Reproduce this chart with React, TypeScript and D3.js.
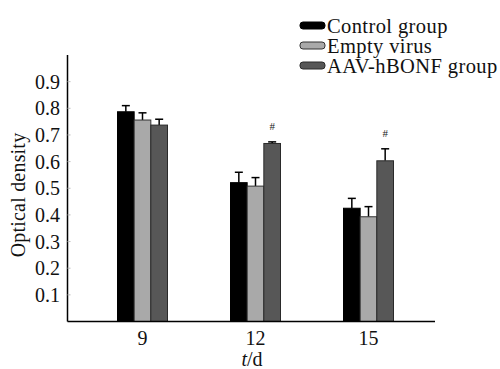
import React from "react";
import * as d3 from "d3";

const days = ["9", "12", "15"];
const groups = ["Control group", "Empty virus", "AAV-hBONF group"];
const controlValues = [0.787, 0.521, 0.425];
const controlErrors = [0.023, 0.039, 0.037];
const emptyValues = [0.756, 0.508, 0.393];
const emptyErrors = [0.027, 0.032, 0.038];
const aavValues = [0.737, 0.668, 0.603];
const aavErrors = [0.022, 0.006, 0.045];
const aavMarks = ["", "#", "#"];
const yTicks = [0.1, 0.2, 0.3, 0.4, 0.5, 0.6, 0.7, 0.8, 0.9];

const fills = ["#000000", "#a9a9a9", "#575757"];
const strokes = ["#000000", "#333333", "#2a2a2a"];

export default function App() {
  const W = 500, H = 369;
  const x0 = 67.5, yBase = 321.5, yTop = 55, xEnd = 435;
  const y = d3.scaleLinear().domain([0, 1]).range([yBase, yTop]);
  const xc = d3.scalePoint<string>().domain(days).range([142.5, 368.5]);
  const xs = d3.scaleBand<string>().domain(groups).range([-25, 25]).padding(0);
  const series = [
    { v: controlValues, e: controlErrors },
    { v: emptyValues, e: emptyErrors },
    { v: aavValues, e: aavErrors },
  ];
  const font = "'Liberation Serif', 'Times New Roman', serif";
  const bw = xs.bandwidth();
  return (
    <svg width={W} height={H} style={{ position: "absolute", left: 0, top: 0, background: "#fff" }} fontFamily={font}>
      <rect x={0} y={0} width={W} height={H} fill="#fff" />
      {days.map((d, i) => (
        <g key={d}>
          {series.map((s, j) => {
            const bx = (xc(d) as number) + (xs(groups[j]) as number);
            const top = y(s.v[i]);
            const et = y(s.v[i] + s.e[i]);
            const cx = bx + bw / 2;
            return (
              <g key={j}>
                <line x1={cx} x2={cx} y1={top} y2={et} stroke="#000" strokeWidth={1.5} />
                <line x1={cx - 4} x2={cx + 4} y1={et} y2={et} stroke="#000" strokeWidth={1.5} />
                <rect x={bx} y={top} width={bw} height={yBase - top} fill={fills[j]} stroke={strokes[j]} strokeWidth={1} />
              </g>
            );
          })}
          {aavMarks[i] && (
            <text
              x={(xc(d) as number) + (xs(groups[2]) as number) + bw / 2}
              y={y(aavValues[i] + aavErrors[i]) - 12}
              fontSize={11}
              textAnchor="middle"
              fill="#222"
            >
              {aavMarks[i]}
            </text>
          )}
        </g>
      ))}
      <line x1={x0} x2={x0} y1={yTop} y2={yBase} stroke="#000" strokeWidth={1.5} />
      <line x1={x0} x2={xEnd} y1={yBase} y2={yBase} stroke="#000" strokeWidth={1.5} />
      {yTicks.map((t) => (
        <g key={t}>
          <line x1={x0} x2={x0 + 3} y1={y(t)} y2={y(t)} stroke="#bbb" strokeWidth={1} />
          <text x={60} y={y(t)} dy="0.35em" fontSize={20} textAnchor="end" fill="#111">
            {d3.format(".1f")(t)}
          </text>
        </g>
      ))}
      {days.map((d) => (
        <text key={d} x={xc(d)} y={345} fontSize={20} textAnchor="middle" fill="#111">
          {d}
        </text>
      ))}
      <text x={252} y={366} fontSize={20} textAnchor="middle" fill="#111">
        <tspan fontStyle="italic">t</tspan>/d
      </text>
      <text transform={`translate(25,195) rotate(-90)`} fontSize={20} textAnchor="middle" fill="#111" letterSpacing={0.2}>
        Optical density
      </text>
      {groups.map((g, j) => (
        <g key={g} transform={`translate(0,${33 + j * 20})`}>
          <rect x={300} y={-11} width={25} height={7} rx={3} fill={fills[j]} stroke={strokes[j]} strokeWidth={1} />
          <text x={327} y={0} fontSize={20.5} fill="#111" letterSpacing={0.4}>
            {g}
          </text>
        </g>
      ))}
    </svg>
  );
}
